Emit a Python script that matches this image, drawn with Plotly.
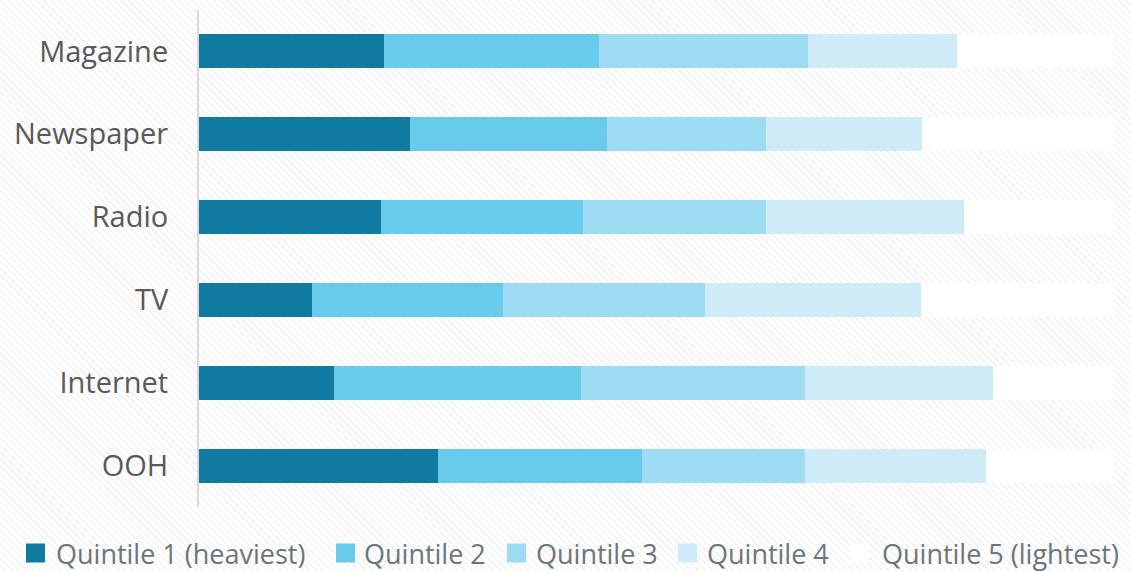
import base64
import plotly.graph_objects as go

# Media channels (top to bottom)
channels = ["Magazine", "Newspaper", "Radio", "TV", "Internet", "OOH"]

# Share of each channel's audience (%) by usage quintile
quintile_1 = [20.2, 23.1, 19.9, 12.4, 14.8, 26.2]
quintile_2 = [23.6, 21.5, 22.1, 20.9, 27.0, 22.3]
quintile_3 = [22.8, 17.4, 20.0, 22.1, 24.5, 17.8]
quintile_4 = [16.3, 17.1, 21.7, 23.6, 20.6, 19.8]
quintile_5 = [17.1, 20.9, 16.3, 21.0, 13.1, 13.9]

series_names = ["Quintile 1 (heaviest)", "Quintile 2", "Quintile 3",
                "Quintile 4", "Quintile 5 (lightest)"]
series_values = [quintile_1, quintile_2, quintile_3, quintile_4, quintile_5]
series_colors = ["#117aa0", "#69cbec", "#9ddcf3", "#cfebf7", "#ffffff"]

W, H = 1131, 571
M_L, M_R, M_T, M_B = 199, 18, 10, 64
pw, ph = W - M_L - M_R, H - M_T - M_B

fig = go.Figure()
for name, vals, col in zip(series_names, series_values, series_colors):
    fig.add_trace(go.Bar(
        y=channels, x=vals, name=name, orientation="h",
        marker=dict(color=col, line=dict(width=0)),
        hoverinfo="x+y+name", showlegend=False,
    ))

# Faint diagonal hatching for the page background
svg = f'''<svg xmlns="http://www.w3.org/2000/svg" width="{W}" height="{H}">
<defs><pattern id="h" width="5" height="5" patternUnits="userSpaceOnUse" patternTransform="rotate(-45)">
<line x1="0" y1="0" x2="0" y2="5" stroke="#ececec" stroke-width="2"/></pattern></defs>
<rect width="100%" height="100%" fill="#ffffff"/>
<rect width="100%" height="100%" fill="url(#h)"/></svg>'''
src = "data:image/svg+xml;base64," + base64.b64encode(svg.encode()).decode()
fig.add_layout_image(dict(
    source=src, xref="paper", yref="paper",
    x=-M_L / pw, y=1 + M_T / ph, sizex=W / pw, sizey=H / ph,
    xanchor="left", yanchor="top", sizing="stretch", layer="below",
))


# Legend row under the plot: swatch + label per series (pixel positions)
def px_x(x):
    return (x - M_L) / pw


def px_y(y):
    return (H - M_B - y) / ph


legend_swatch_x = [26, 336, 507, 678, 850]
legend_text_x = [54, 362, 534, 705, 880]
legend_cy = 553
sw = 19
for name, col, sx, tx in zip(series_names, series_colors, legend_swatch_x, legend_text_x):
    fig.add_shape(type="rect", xref="paper", yref="paper",
                  x0=px_x(sx), x1=px_x(sx + sw),
                  y0=px_y(legend_cy + sw / 2), y1=px_y(legend_cy - sw / 2),
                  fillcolor=col, line=dict(width=0), layer="above")
    fig.add_annotation(xref="paper", yref="paper", x=px_x(tx), y=px_y(legend_cy),
                       xanchor="left", yanchor="middle", showarrow=False,
                       text=name, font=dict(size=27, color="#6b767c"))

fig.update_layout(
    width=W, height=H,
    margin=dict(l=M_L, r=M_R, t=M_T, b=M_B, autoexpand=False),
    barmode="stack", bargap=0.59,
    paper_bgcolor="#ffffff", plot_bgcolor="rgba(0,0,0,0)",
    font=dict(family="Open Sans", color="#595959"),
    showlegend=False,
    xaxis=dict(range=[0, 100], showgrid=False, zeroline=False,
               showticklabels=False, showline=False, fixedrange=True),
    yaxis=dict(autorange="reversed", showgrid=False, zeroline=False,
               showline=True, linecolor="#d9d9d9", linewidth=2,
               ticks="", ticklabelstandoff=23,
               tickfont=dict(size=29, color="#595959")),
)

fig.write_html("out.html")
